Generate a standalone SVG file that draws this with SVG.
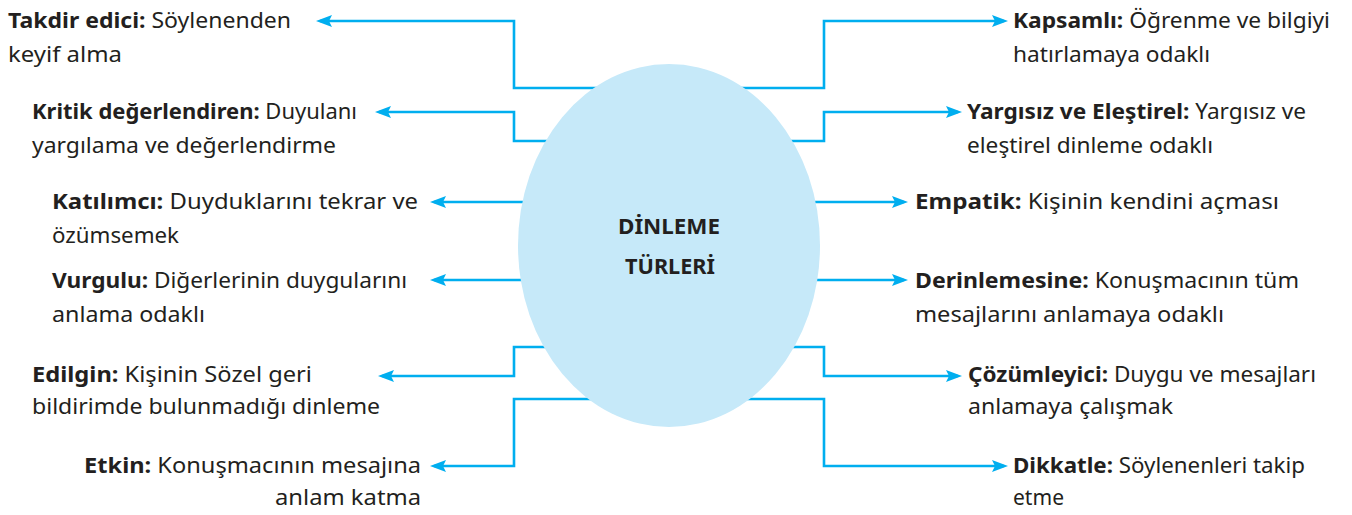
<svg xmlns="http://www.w3.org/2000/svg" width="1352" height="515" viewBox="0 0 1352 515">
<defs>
<marker id="ah" markerUnits="userSpaceOnUse" markerWidth="16" markerHeight="12" refX="12" refY="6" orient="auto">
<path d="M0,0 L16,6 L0,12 L3,6 z" fill="#00AEEF"/>
</marker>
<style>
.c{fill:none;stroke:#00AEEF;stroke-width:2.6;marker-end:url(#ah)}
.t{font-family:"Noto Sans","DejaVu Sans",sans-serif;font-size:21px;fill:#231F20}
.b{font-weight:bold}
.h{font-family:"Noto Sans","DejaVu Sans",sans-serif;font-size:22px;font-weight:bold;fill:#231F20}
</style>
</defs>
<rect width="1352" height="515" fill="#fff"/>
<g id="connectors">
<path class="c" d="M640 88 H514 V21 H320"/>
<path class="c" d="M640 141 H514 V112 H379"/>
<path class="c" d="M640 202 H434"/>
<path class="c" d="M640 280 H434"/>
<path class="c" d="M640 347 H514 V376 H382"/>
<path class="c" d="M640 399 H514 V466 H434"/>
<path class="c" d="M700 88 H824 V21 H1004"/>
<path class="c" d="M700 141 H824 V112 H958"/>
<path class="c" d="M700 202 H904"/>
<path class="c" d="M700 280 H904"/>
<path class="c" d="M700 347 H824 V376 H958"/>
<path class="c" d="M700 399 H824 V466 H1004"/>
</g>
<g id="center">
<ellipse cx="669" cy="245.5" rx="151" ry="181.5" fill="#C6E9F9"/>
<text class="h" x="618" y="234" textLength="102" lengthAdjust="spacingAndGlyphs">DİNLEME</text>
<text class="h" x="625" y="274" textLength="90" lengthAdjust="spacingAndGlyphs">TÜRLERİ</text>
</g>
<g id="takdir">
<text class="t" x="8" y="28" textLength="283" lengthAdjust="spacingAndGlyphs"><tspan class="b">Takdir edici:</tspan> Söylenenden</text>
<text class="t" x="8" y="62" textLength="114" lengthAdjust="spacingAndGlyphs">keyif alma</text>
</g>
<g id="kritik">
<text class="t" x="32" y="119" textLength="325" lengthAdjust="spacingAndGlyphs"><tspan class="b">Kritik değerlendiren:</tspan> Duyulanı</text>
<text class="t" x="32" y="153" textLength="304" lengthAdjust="spacingAndGlyphs">yargılama ve değerlendirme</text>
</g>
<g id="katilimci">
<text class="t" x="52" y="209" textLength="366" lengthAdjust="spacingAndGlyphs"><tspan class="b">Katılımcı:</tspan> Duyduklarını tekrar ve</text>
<text class="t" x="52" y="243" textLength="127" lengthAdjust="spacingAndGlyphs">özümsemek</text>
</g>
<g id="vurgulu">
<text class="t" x="52" y="288" textLength="355" lengthAdjust="spacingAndGlyphs"><tspan class="b">Vurgulu:</tspan> Diğerlerinin duygularını</text>
<text class="t" x="52" y="322" textLength="153" lengthAdjust="spacingAndGlyphs">anlama odaklı</text>
</g>
<g id="edilgin">
<text class="t" x="32" y="382" textLength="280" lengthAdjust="spacingAndGlyphs"><tspan class="b">Edilgin:</tspan> Kişinin Sözel geri</text>
<text class="t" x="32" y="414" textLength="348" lengthAdjust="spacingAndGlyphs">bildirimde bulunmadığı dinleme</text>
</g>
<g id="etkin">
<text class="t" x="84" y="473" textLength="337" lengthAdjust="spacingAndGlyphs"><tspan class="b">Etkin:</tspan> Konuşmacının mesajına</text>
<text class="t" x="275" y="505" textLength="146" lengthAdjust="spacingAndGlyphs">anlam katma</text>
</g>
<g id="kapsamli">
<text class="t" x="1013" y="28" textLength="317" lengthAdjust="spacingAndGlyphs"><tspan class="b">Kapsamlı:</tspan> Öğrenme ve bilgiyi</text>
<text class="t" x="1013" y="62" textLength="197" lengthAdjust="spacingAndGlyphs">hatırlamaya odaklı</text>
</g>
<g id="yargisiz">
<text class="t" x="967" y="119" textLength="339" lengthAdjust="spacingAndGlyphs"><tspan class="b">Yargısız ve Eleştirel:</tspan> Yargısız ve</text>
<text class="t" x="967" y="153" textLength="246" lengthAdjust="spacingAndGlyphs">eleştirel dinleme odaklı</text>
</g>
<g id="empatik">
<text class="t" x="915" y="209" textLength="364" lengthAdjust="spacingAndGlyphs"><tspan class="b">Empatik:</tspan> Kişinin kendini açması</text>
</g>
<g id="derinlemesine">
<text class="t" x="915" y="288" textLength="384" lengthAdjust="spacingAndGlyphs"><tspan class="b">Derinlemesine:</tspan> Konuşmacının tüm</text>
<text class="t" x="915" y="322" textLength="309" lengthAdjust="spacingAndGlyphs">mesajlarını anlamaya odaklı</text>
</g>
<g id="cozumleyici">
<text class="t" x="968" y="382" textLength="348" lengthAdjust="spacingAndGlyphs"><tspan class="b">Çözümleyici:</tspan> Duygu ve mesajları</text>
<text class="t" x="968" y="414" textLength="205" lengthAdjust="spacingAndGlyphs">anlamaya çalışmak</text>
</g>
<g id="dikkatle">
<text class="t" x="1013" y="473" textLength="292" lengthAdjust="spacingAndGlyphs"><tspan class="b">Dikkatle:</tspan> Söylenenleri takip</text>
<text class="t" x="1013" y="505" textLength="51" lengthAdjust="spacingAndGlyphs">etme</text>
</g>
</svg>
